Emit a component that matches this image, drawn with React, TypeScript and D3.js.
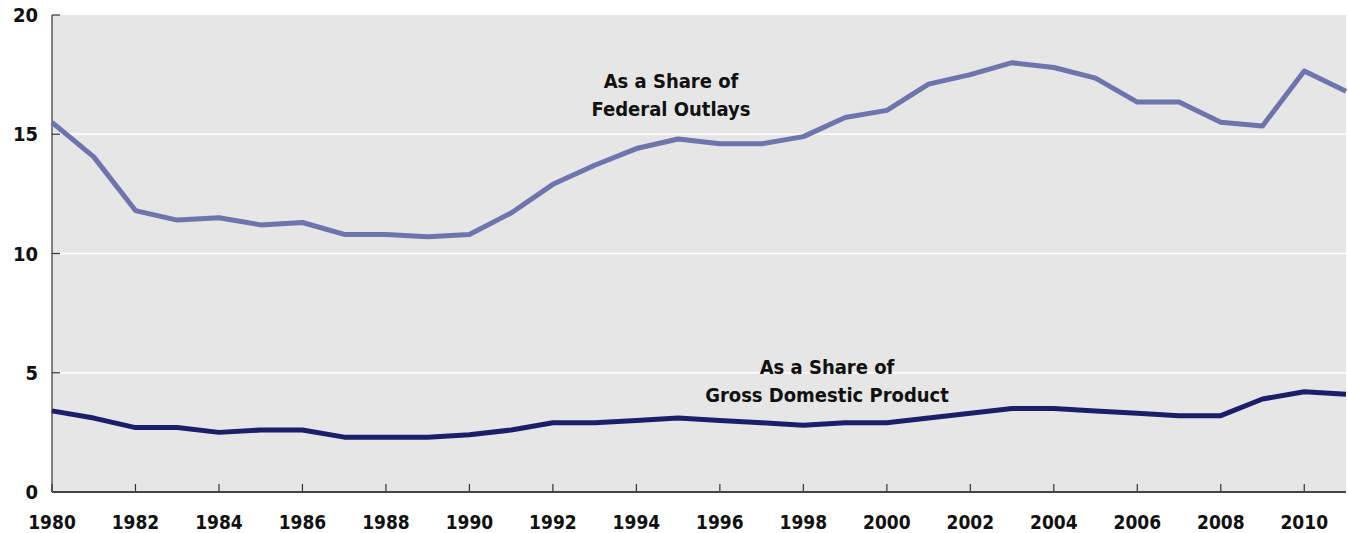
import React, { useEffect, useRef } from "react";
import * as d3 from "d3";

const years = d3.range(1980, 2012);
const outlays = [
  15.5, 14.05, 11.8, 11.4, 11.5, 11.2, 11.3, 10.8, 10.8, 10.7, 10.8, 11.7, 12.9,
  13.7, 14.4, 14.8, 14.6, 14.6, 14.9, 15.7, 16.0, 17.1, 17.5, 18.0, 17.8, 17.35,
  16.35, 16.35, 15.5, 15.35, 17.65, 16.8,
];
const gdp = [
  3.4, 3.1, 2.7, 2.7, 2.5, 2.6, 2.6, 2.3, 2.3, 2.3, 2.4, 2.6, 2.9, 2.9, 3.0, 3.1,
  3.0, 2.9, 2.8, 2.9, 2.9, 3.1, 3.3, 3.5, 3.5, 3.4, 3.3, 3.2, 3.2, 3.9, 4.2, 4.1,
];
const yTicks = [0, 5, 10, 15, 20];
const xTicks = d3.range(1980, 2012, 2);
const outlaysLabel = ["As a Share of", "Federal Outlays"];
const gdpLabel = ["As a Share of", "Gross Domestic Product"];

const width = 1348;
const height = 533;
const margin = { top: 15, right: 2, bottom: 41, left: 52 };
const font = "'Liberation Sans Narrow', 'DejaVu Sans Condensed', 'Roboto Condensed', sans-serif";

const App = () => {
  const ref = useRef<SVGSVGElement>(null);

  useEffect(() => {
    const svg = d3.select(ref.current);
    svg.selectAll("*").remove();

    const x = d3
      .scaleLinear()
      .domain([1980, 2011])
      .range([margin.left, width - margin.right]);
    const y = d3
      .scaleLinear()
      .domain([0, 20])
      .range([height - margin.bottom, margin.top]);

    // plot background
    svg
      .append("rect")
      .attr("x", x(1980))
      .attr("y", y(20))
      .attr("width", x(2011) - x(1980))
      .attr("height", y(0) - y(20))
      .attr("fill", "#e6e6e6");

    // gridlines
    svg
      .selectAll(".grid")
      .data(yTicks.filter((d) => d > 0 && d < 20))
      .enter()
      .append("line")
      .attr("x1", x(1980))
      .attr("x2", x(2011))
      .attr("y1", (d) => y(d))
      .attr("y2", (d) => y(d))
      .attr("stroke", "#fff")
      .attr("stroke-width", 1.5);

    // y axis
    svg
      .append("line")
      .attr("x1", x(1980))
      .attr("x2", x(1980))
      .attr("y1", y(20))
      .attr("y2", y(0))
      .attr("stroke", "#333")
      .attr("stroke-width", 1.2);
    svg
      .selectAll(".ytick")
      .data(yTicks)
      .enter()
      .append("line")
      .attr("x1", x(1980))
      .attr("x2", x(1980) + 8)
      .attr("y1", (d) => y(d))
      .attr("y2", (d) => y(d))
      .attr("stroke", "#333")
      .attr("stroke-width", 1.2);
    svg
      .selectAll(".ylab")
      .data(yTicks)
      .enter()
      .append("text")
      .attr("x", 38)
      .attr("y", (d) => y(d) + 7)
      .attr("text-anchor", "end")
      .attr("font-family", font)
      .attr("font-weight", "bold")
      .attr("font-size", 20)
      .attr("fill", "#111")
      .text((d) => d);

    // x axis
    svg
      .selectAll(".xtick")
      .data(xTicks)
      .enter()
      .append("line")
      .attr("x1", (d) => x(d))
      .attr("x2", (d) => x(d))
      .attr("y1", y(0))
      .attr("y2", y(0) - 8)
      .attr("stroke", "#333")
      .attr("stroke-width", 1.2);
    svg
      .append("line")
      .attr("x1", x(1980))
      .attr("x2", x(2011))
      .attr("y1", y(0))
      .attr("y2", y(0))
      .attr("stroke", "#444")
      .attr("stroke-width", 2);
    svg
      .selectAll(".xlab")
      .data(xTicks)
      .enter()
      .append("text")
      .attr("x", (d) => x(d))
      .attr("y", 529)
      .attr("text-anchor", "middle")
      .attr("font-family", font)
      .attr("font-weight", "bold")
      .attr("font-size", 19)
      .attr("fill", "#111")
      .text((d) => d);

    const line = d3
      .line<number>()
      .x((_, i) => x(years[i]))
      .y((d) => y(d));

    svg
      .append("path")
      .datum(outlays)
      .attr("fill", "none")
      .attr("stroke", "#6e74ad")
      .attr("stroke-width", 5)
      .attr("stroke-linejoin", "round")
      .attr("d", line);

    svg
      .append("path")
      .datum(gdp)
      .attr("fill", "none")
      .attr("stroke", "#1b1f6a")
      .attr("stroke-width", 5)
      .attr("stroke-linejoin", "round")
      .attr("d", line);

    const addLabel = (lines: string[], cx: number, y0: number) => {
      svg
        .selectAll(null)
        .data(lines)
        .enter()
        .append("text")
        .attr("x", cx)
        .attr("y", (_, i) => y0 + i * 28)
        .attr("text-anchor", "middle")
        .attr("font-family", font)
        .attr("font-weight", "bold")
        .attr("font-size", 20)
        .attr("fill", "#111")
        .text((d) => d);
    };
    addLabel(outlaysLabel, 671, 88);
    addLabel(gdpLabel, 827, 374);
  }, []);

  return (
    <div style={{ position: "absolute", left: 0, top: 0 }}>
      <svg ref={ref} width={width} height={height} />
    </div>
  );
};

export default App;
